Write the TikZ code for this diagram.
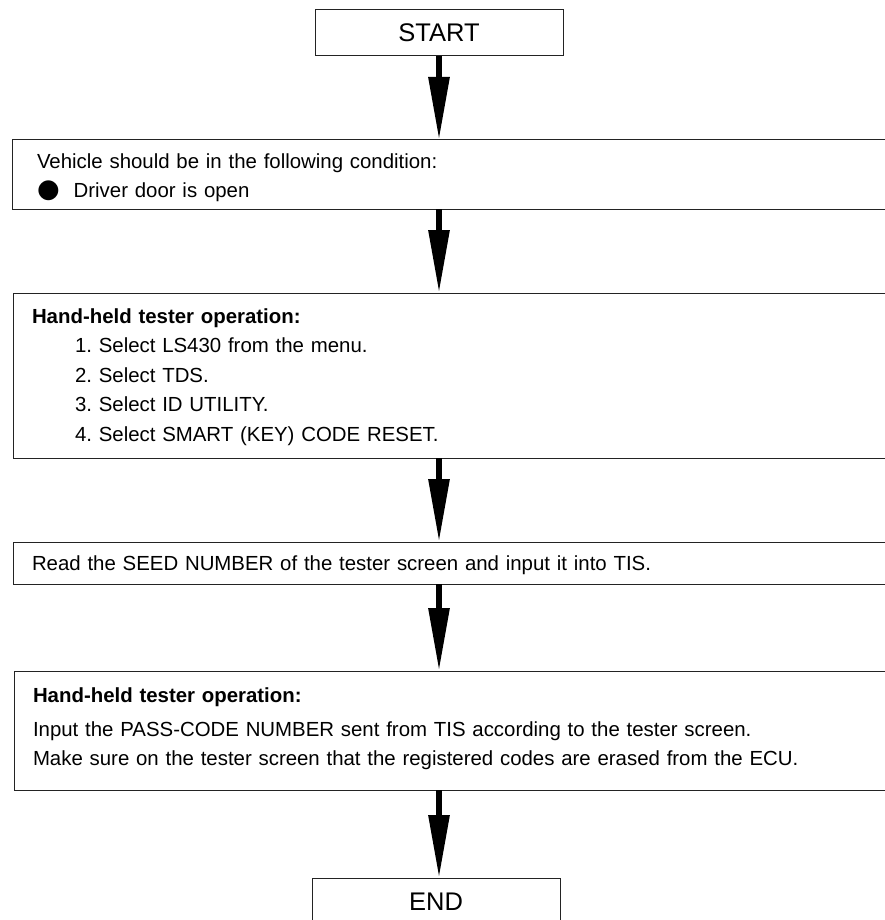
\documentclass[tikz,border=0pt]{standalone}
\usepackage{fontspec}
\setmainfont{Liberation Sans}
\newfontfamily\symbolfont{DejaVu Sans}
\usetikzlibrary{arrows.meta}
\definecolor{boxline}{RGB}{35,35,35}
\frenchspacing
\tikzset{stepbox/.style={draw=boxline,line width=1pt,anchor=north west,inner ysep=0pt,
 inner xsep=19pt,outer sep=0pt,text width=840pt,align=left,font=\fontsize{20.4}{29.5}\selectfont},
 termbox/.style={draw=boxline,line width=1pt,anchor=north,minimum width=248pt,inner ysep=0pt,
 outer sep=0pt,text height=32pt,text depth=14pt,font=\fontsize{25.5}{30}\selectfont},
 flow/.style={line width=6pt,-{Triangle[length=63pt,width=20pt]}}}
\newcommand{\listindent}{\hspace*{43pt}}
\begin{document}
\begin{tikzpicture}[x=1pt,y=-1pt]
\useasboundingbox (0,0) rectangle (885,920);
\node[termbox] (start) at (439,10) {START};
\node[stepbox,inner xsep=25pt,text height=28pt,text depth=41pt] (cond) at (12,140)
 {Vehicle should be in the following condition:\\
 {\symbolfont\fontsize{26}{26}\selectfont ●}\hspace{14pt}Driver door is open};
\node[stepbox,text height=30pt,text depth=135pt] (select) at (13,293)
 {\textbf{Hand-held tester operation:}\\
 \listindent 1. Select LS430 from the menu.\\
 \listindent 2. Select TDS.\\
 \listindent 3. Select ID UTILITY.\\
 \listindent 4. Select SMART (KEY) CODE RESET.};
\node[stepbox,text height=28pt,text depth=14pt] (seed) at (13,542)
 {Read the SEED NUMBER of the tester screen and input it into TIS.};
\node[stepbox,text height=31pt,text depth=88pt] (pass) at (14,671)
 {\textbf{Hand-held tester operation:}\\[4.5pt]
 Input the PASS-CODE NUMBER sent from TIS according to the tester screen.\\
 Make sure on the tester screen that the registered codes are erased from the ECU.};
\node[termbox] (finish) at (436,878) {END};
% connectors
\draw[flow] (start.south) -- (cond.north -| start.south);
\draw[flow] (cond.south -| start.south) -- (select.north -| start.south);
\draw[flow] (select.south -| start.south) -- (seed.north -| start.south);
\draw[flow] (seed.south -| start.south) -- (pass.north -| start.south);
\draw[flow] (pass.south -| start.south) -- (finish.north -| start.south);
\end{tikzpicture}
\end{document}
